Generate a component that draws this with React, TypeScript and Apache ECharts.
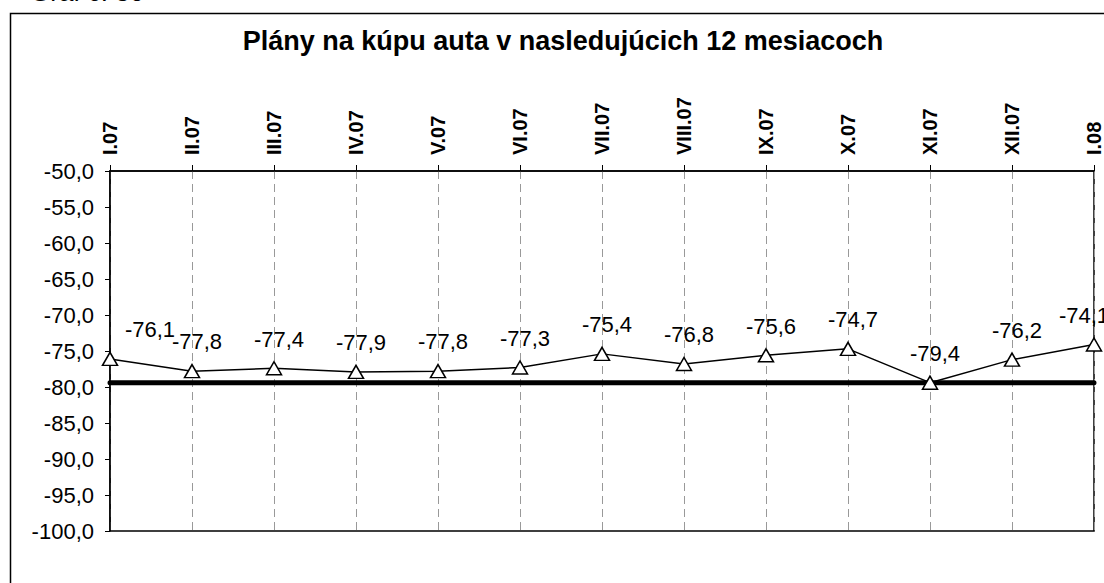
import React, { useEffect, useRef } from "react";
import * as echarts from "echarts";

const categories = ["I.07", "II.07", "III.07", "IV.07", "V.07", "VI.07", "VII.07", "VIII.07", "IX.07", "X.07", "XI.07", "XII.07", "I.08"];
const values = [-76.1, -77.8, -77.4, -77.9, -77.8, -77.3, -75.4, -76.8, -75.6, -74.7, -79.4, -76.2, -74.1];
const minLineValue = -79.4;
const yMin = -100;
const yMax = -50;
const yStep = 5;
const titleText = "Plány na kúpu auta v nasledujúcich 12 mesiacoch";
const captionText = "Graf č. 30";

const FONT = "'Liberation Sans', Arial, sans-serif";
const fmt = (v: number) => v.toFixed(1).replace(".", ",");

export default function App() {
  const ref = useRef<HTMLDivElement>(null);
  useEffect(() => {
    if (!ref.current) return;
    const chart = echarts.init(ref.current, undefined, { renderer: "svg" });
    const labelOffsets: Record<number, [number, number]> = { 0: [40, 0], 12: [-10, 0] };
    const seriesData = values.map((v, i) => ({
      value: v,
      label: { offset: labelOffsets[i] || [5, 0] },
    }));
    chart.setOption({
      animation: false,
      backgroundColor: "#fff",
      textStyle: { fontFamily: FONT },
      graphic: [
        {
          type: "rect",
          shape: { x: 10.5, y: 13.5, width: 1120, height: 620 },
          style: { fill: "none", stroke: "#000", lineWidth: 1.5 },
          z: -1,
        },
        {
          type: "text",
          x: 30,
          y: 5,
          style: { text: captionText, fontSize: 26, fontFamily: FONT, fill: "#000", verticalAlign: "bottom" },
        },
      ],
      title: {
        text: titleText,
        left: 558,
        top: 22,
        textAlign: "center",
        textStyle: { fontSize: 27, fontWeight: "bold", color: "#000", fontFamily: FONT },
      },
      grid: {
        left: 110,
        right: 8,
        top: 171,
        bottom: 52,
        show: true,
        borderColor: "#000",
        borderWidth: 1.5,
        backgroundColor: "transparent",
      },
      xAxis: {
        type: "category",
        position: "top",
        data: categories,
        boundaryGap: false,
        axisLine: { show: true, lineStyle: { color: "#000", width: 1.5 } },
        axisTick: { show: true, length: 6, lineStyle: { color: "#000", width: 1 } },
        axisLabel: { rotate: -90, fontSize: 20, fontWeight: "bold", color: "#000", margin: 16, fontFamily: FONT },
        splitLine: { show: true, lineStyle: { color: "#999", type: [8, 5], width: 1 } },
      },
      yAxis: {
        type: "value",
        min: yMin,
        max: yMax,
        interval: yStep,
        axisLine: { show: true, lineStyle: { color: "#000", width: 1.5 } },
        axisTick: { show: true, length: 5, lineStyle: { color: "#000" } },
        axisLabel: { fontSize: 22, color: "#000", margin: 16, formatter: (v: number) => fmt(v), fontFamily: FONT },
        splitLine: { show: false },
      },
      series: [
        {
          type: "line",
          data: categories.map(() => minLineValue),
          symbol: "none",
          lineStyle: { color: "#000", width: 5, cap: "round" },
          silent: true,
          z: 2,
        },
        {
          type: "line",
          data: seriesData,
          symbol: "triangle",
          symbolSize: [15, 13],
          lineStyle: { color: "#000", width: 1.5 },
          itemStyle: { color: "#fff", borderColor: "#000", borderWidth: 1.5 },
          label: {
            show: true,
            position: "top",
            distance: 11,
            fontSize: 22,
            color: "#000",
            fontFamily: FONT,
            formatter: (p: any) => fmt(p.value),
          },
          z: 3,
        },
      ],
    });
    return () => chart.dispose();
  }, []);
  return <div ref={ref} style={{ position: "fixed", left: 0, top: 0, width: 1104, height: 583 }} />;
}
